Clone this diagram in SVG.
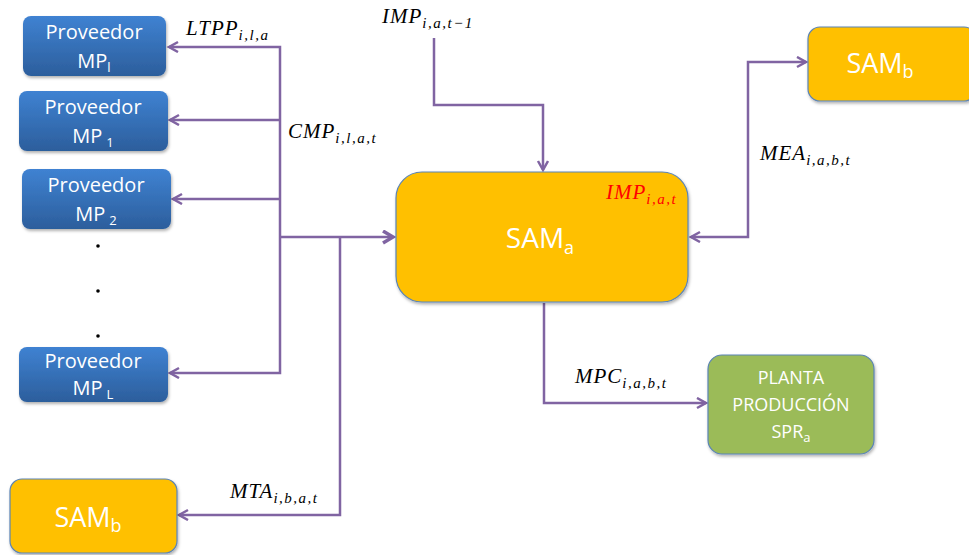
<svg xmlns="http://www.w3.org/2000/svg" width="969" height="555" viewBox="0 0 969 555">
<defs>
<linearGradient id="blue" x1="0" y1="0" x2="0" y2="1">
<stop offset="0" stop-color="#3f82d2"/>
<stop offset="1" stop-color="#2c5e9c"/>
</linearGradient>
<filter id="sh" x="-10%" y="-10%" width="130%" height="140%">
<feDropShadow dx="1" dy="2" stdDeviation="1.5" flood-color="#000" flood-opacity="0.3"/>
</filter>
<marker id="ah" markerUnits="userSpaceOnUse" markerWidth="14" markerHeight="14" refX="10" refY="6" orient="auto">
<path d="M1,1 L10,6 L1,11" fill="none" stroke="#8064a2" stroke-width="2.5"/>
</marker>
<marker id="ahs" markerUnits="userSpaceOnUse" markerWidth="14" markerHeight="14" refX="10" refY="6" orient="auto-start-reverse">
<path d="M1,1 L10,6 L1,11" fill="none" stroke="#8064a2" stroke-width="2.5"/>
</marker>
<marker id="ahb" markerUnits="userSpaceOnUse" markerWidth="16" markerHeight="16" refX="11" refY="7" orient="auto">
<path d="M1,1 L11,7 L1,13" fill="none" stroke="#8064a2" stroke-width="3.5"/>
</marker>
</defs>
<style>
.prov{fill:url(#blue);filter:url(#sh)}
.sam{fill:#ffc000;stroke:#5b84b5;stroke-width:1.2;filter:url(#sh)}
.plant{fill:#9bbb59;stroke:#5b84b5;stroke-width:1.2;filter:url(#sh)}
.bt{font-family:"Open Sans","Liberation Sans",sans-serif;fill:#fff;text-anchor:middle}
.math{font-family:"Liberation Serif",serif;font-style:italic;font-size:21px;letter-spacing:1px;fill:#000}
.sub{font-size:15px;letter-spacing:1.5px}
.ln{fill:none;stroke:#8064a2;stroke-width:2.5}
</style>

<g id="connectors">
<path class="ln" d="M280,237 V47 H169" marker-end="url(#ah)"/>
<path class="ln" d="M280,120 H170" marker-end="url(#ah)"/>
<path class="ln" d="M280,199 H173" marker-end="url(#ah)"/>
<path class="ln" d="M280,237 V373 H170" marker-end="url(#ah)"/>
<path class="ln" d="M280,237 H393" stroke-width="4" marker-end="url(#ahb)"/>
<path class="ln" d="M340,237 V515 H179" marker-end="url(#ah)"/>
<path class="ln" d="M434,38 V105 H543 V170" marker-end="url(#ah)"/>
<path class="ln" d="M691,237 H748 V62 H806" marker-start="url(#ahs)" marker-end="url(#ah)"/>
<path class="ln" d="M544,303 V403 H706" marker-end="url(#ah)"/>
</g>

<g id="prov-l">
<rect class="prov" x="23" y="16" width="143" height="60" rx="8"/>
<text class="bt" font-size="20" x="94" y="39">Proveedor</text>
<text class="bt" font-size="20" x="94" y="68">MP<tspan font-size="13" dy="4">l</tspan></text>
</g>
<g id="prov-1">
<rect class="prov" x="19" y="91" width="149" height="60" rx="8"/>
<text class="bt" font-size="20" x="93" y="114">Proveedor</text>
<text class="bt" font-size="20" x="93" y="143">MP<tspan font-size="13" dx="4" dy="4">1</tspan></text>
</g>
<g id="prov-2">
<rect class="prov" x="22" y="169" width="149" height="60" rx="8"/>
<text class="bt" font-size="20" x="96" y="192">Proveedor</text>
<text class="bt" font-size="20" x="96" y="221">MP<tspan font-size="13" dx="4" dy="4">2</tspan></text>
</g>
<g id="dots" fill="#000">
<circle cx="98" cy="246" r="1.8"/>
<circle cx="98" cy="291" r="1.8"/>
<circle cx="98" cy="336" r="1.8"/>
</g>
<g id="prov-L">
<rect class="prov" x="19" y="347" width="149" height="55" rx="8"/>
<text class="bt" font-size="20" x="93" y="368">Proveedor</text>
<text class="bt" font-size="20" x="93" y="395">MP<tspan font-size="13" dx="4" dy="4">L</tspan></text>
</g>

<g id="sam-b-left">
<rect class="sam" x="10" y="479" width="167" height="74" rx="12"/>
<text class="bt" font-size="27" x="88" y="527">SAM<tspan font-size="18" dy="5">b</tspan></text>
</g>

<g id="sam-a">
<rect class="sam" x="396" y="172" width="292" height="130" rx="26"/>
<text class="bt" font-size="28" x="540" y="248">SAM<tspan font-size="18" dy="6">a</tspan></text>
<text class="math" x="606" y="199" style="fill:#ff0000">IMP<tspan class="sub" dy="5">i,a,t</tspan></text>
</g>

<g id="sam-b-right">
<rect class="sam" x="808" y="27" width="168" height="74" rx="12"/>
<text class="bt" font-size="27" x="880" y="73">SAM<tspan font-size="18" dy="5">b</tspan></text>
</g>

<g id="planta">
<rect class="plant" x="708" y="355" width="166" height="99" rx="14"/>
<text class="bt" font-size="18" x="791" y="384">PLANTA</text>
<text class="bt" font-size="18" x="791" y="411">PRODUCCIÓN</text>
<text class="bt" font-size="18" x="791" y="438">SPR<tspan font-size="13" dy="4">a</tspan></text>
</g>

<g id="labels">
<text class="math" x="186" y="35">LTPP<tspan class="sub" dy="5">i,l,a</tspan></text>
<text class="math" x="288" y="138">CMP<tspan class="sub" dy="5">i,l,a,t</tspan></text>
<text class="math" x="382" y="23">IMP<tspan class="sub" dy="5">i,a,t−1</tspan></text>
<text class="math" x="760" y="160">MEA<tspan class="sub" dy="5">i,a,b,t</tspan></text>
<text class="math" x="575" y="383">MPC<tspan class="sub" dy="5">i,a,b,t</tspan></text>
<text class="math" x="230" y="498">MTA<tspan class="sub" dy="5">i,b,a,t</tspan></text>
</g>
</svg>
